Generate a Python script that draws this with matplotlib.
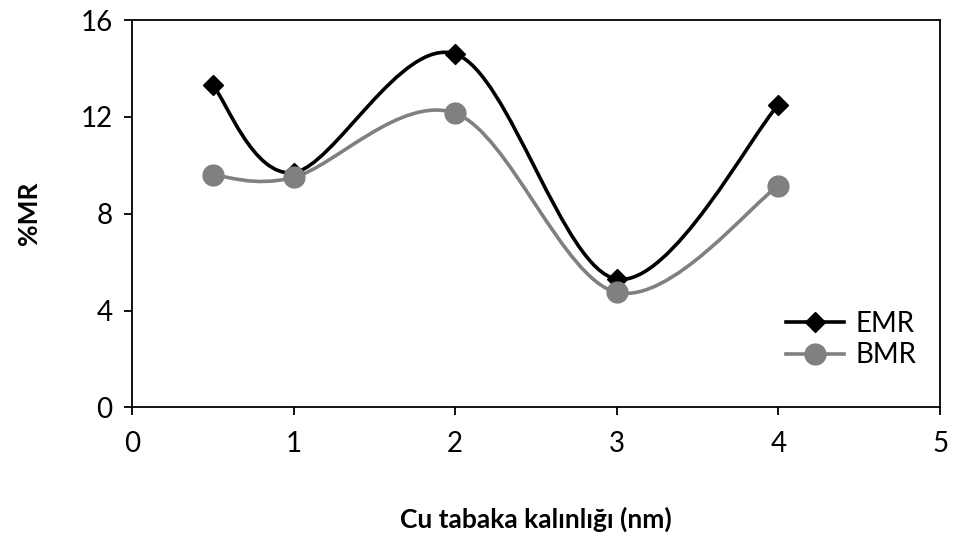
import matplotlib
matplotlib.use("Agg")

import numpy as np
import matplotlib.pyplot as plt
from matplotlib.path import Path
from matplotlib.patches import PathPatch
from matplotlib.lines import Line2D

plt.rcParams['font.family'] = ['Lato', 'DejaVu Sans']

# data
thickness = [0.5, 1, 2, 3, 4]
emr = [13.3, 9.7, 14.6, 5.3, 12.5]
bmr = [9.6, 9.5, 12.15, 4.75, 9.15]


def smooth_path(xs, ys):
    # excel-like smoothed line: cubic bezier segments, catmull-rom control points
    p = np.column_stack([xs, ys]).astype(float)
    n = len(p)
    verts = [p[0]]
    codes = [Path.MOVETO]
    for i in range(n - 1):
        p0 = p[i - 1] if i > 0 else p[i]
        p1 = p[i]
        p2 = p[i + 1]
        p3 = p[i + 2] if i + 2 < n else p[i + 1]
        c1 = p1 + (p2 - p0) / 6.0
        c2 = p2 - (p3 - p1) / 6.0
        verts += [c1, c2, p2]
        codes += [Path.CURVE4] * 3
    return Path(verts, codes)


fig = plt.figure(figsize=(9.6, 5.49), dpi=100)
ax = fig.add_axes([0.1375, 0.258, 0.8417, 0.7055])

black = '#000000'
grey = '#808080'

ax.add_patch(PathPatch(smooth_path(thickness, bmr), fill=False, edgecolor=grey, lw=2.6, zorder=2))
ax.plot(thickness, bmr, ls='none', marker='o', ms=15, color=grey, zorder=4)

ax.add_patch(PathPatch(smooth_path(thickness, emr), fill=False, edgecolor=black, lw=2.6, zorder=3))
ax.plot(thickness, emr, ls='none', marker='D', ms=10, color=black, zorder=3)

ax.set_xlim(0, 5)
ax.set_ylim(0, 16)
ax.set_xticks(range(0, 6))
ax.set_yticks([0, 4, 8, 12, 16])
ax.tick_params(direction='out', length=6, width=1.3, labelsize=20, pad=8)
ax.tick_params(axis='x', pad=11)
for s in ax.spines.values():
    s.set_linewidth(1.3)

ax.set_xlabel('Cu tabaka kalınlığı (nm)', fontsize=19, fontweight='bold', labelpad=36)
ax.set_ylabel('%MR', fontsize=19, fontweight='bold', labelpad=28)

handles = [
    Line2D([], [], color=black, lw=2.6, marker='D', ms=10),
    Line2D([], [], color=grey, lw=2.6, marker='o', ms=15),
]
ax.legend(handles, ['EMR', 'BMR'], loc='center', bbox_to_anchor=(0.89, 0.175),
          frameon=False, fontsize=20, handlelength=2.1, handletextpad=0.4,
          labelspacing=0.2)

fig.savefig('out.png', dpi=100)
